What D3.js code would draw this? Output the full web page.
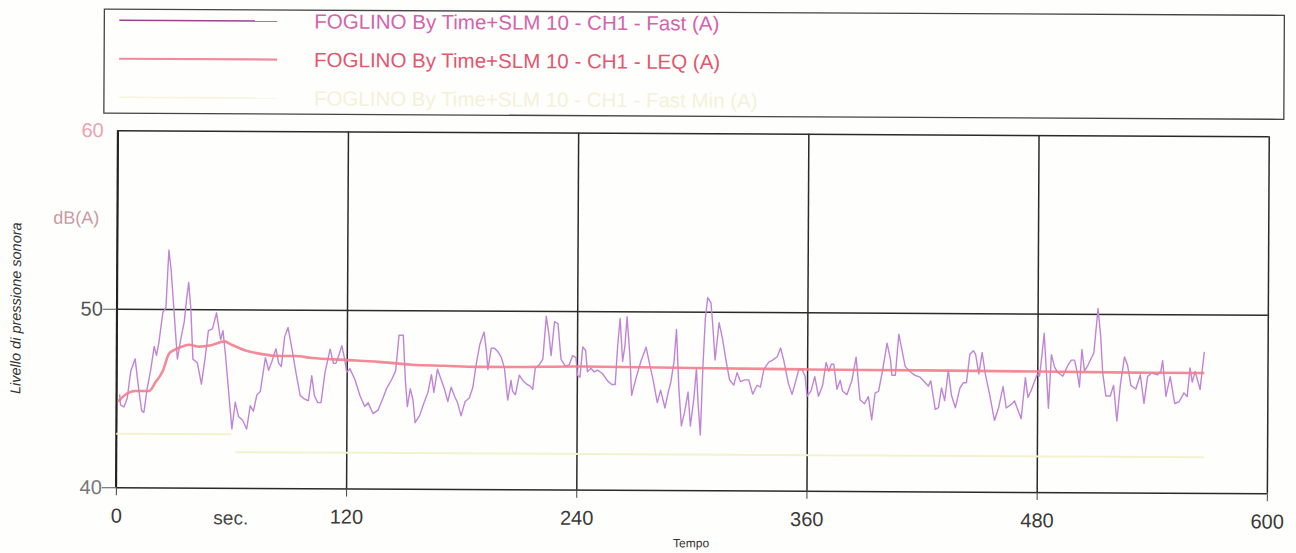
<!DOCTYPE html>
<html>
<head>
<meta charset="utf-8">
<script src="https://cdn.jsdelivr.net/npm/d3@7"></script>
<style>
  body { margin: 0; background: #fefefd; }
  svg { font-family: "Liberation Sans", Arial, sans-serif; }
</style>
</head>
<body>
<div id="chart"></div>
<script>
// x ticks (seconds) and y ticks (dB)
var xTicks = [0, 120, 240, 360, 480, 600];
var yTicks = [40, 50, 60];

// Fast (A) - vertices
var fastTimes = [1.7, 2.2, 4, 5.7, 7.4, 9.7, 11.4, 13.2, 14.4, 16, 17.7, 19.6, 20.8, 22, 24, 25.6, 27, 28.2, 29.6, 31.7,
  33.4, 35.2, 36.4, 37.4, 38.6, 39.8, 42.1, 44.3, 46.1, 47.8, 49.9, 52, 53, 54.2, 55.4, 56.8, 58.5, 60.3, 62, 63.7,
  65.8, 68, 69.8, 71.5, 73.2, 75, 77.6, 79.3, 81, 83.1, 84.5, 85.9, 87.6, 89.3, 91.4, 93.5, 95.8, 98, 100.1, 101.8,
  103.2, 105, 106.7, 108.7, 111.3, 113.1, 114.3, 116, 117.4, 118.8, 120, 121.7, 124.3, 127, 129.5, 131.3, 133.8, 136.5, 139.1, 140.8,
  143.4, 145.5, 147.2, 149.4, 150.6, 151.7, 153.2, 154.6, 155.8, 158.1, 160.3, 162.4, 164.2, 165.5, 167.3, 169, 170.7, 172.8, 174.5, 176.3,
  178, 179.7, 181.8, 184, 185.8, 187.5, 189.3, 191.5, 192.7, 193.6, 195.3, 197, 198.8, 200.5, 202.2, 204, 205.7,
  206.5, 208, 210, 211.8, 213.8, 215.5, 217, 218.3, 220.5, 222.2, 223.9, 225.3, 226.5, 228.2, 230, 231.7, 234, 236, 237.7, 239.5,
  240.3, 241.6, 243, 244.5, 245.5, 247.3, 249, 250.8, 253.4, 256, 258.2, 260, 261.2, 262.4, 263.8, 265, 266, 267.6, 268.6, 270.7,
  273.3, 276, 278, 279.7, 282, 283.7, 286, 287.7, 288.9, 290.6, 291.8, 293.2, 294.6, 296.3, 298, 299.3, 301, 302.3, 303.3, 304.5,
  305.7, 306.8, 308, 309.7, 310.6, 312, 314, 315.8, 317.5, 319.6, 321.8, 323.5, 325.3, 327.5, 329.6, 331.7, 334, 335.7, 337.5, 340,
  341.8, 344.4, 346.1, 347.8, 350.3, 352.2, 354, 355.7, 357.4, 359, 360, 362.1, 364, 366, 368.1, 369.9, 371.3, 372.6, 373.9, 375.6,
  377.3, 378.5, 380.8, 383.4, 385.5, 387.7, 390, 392, 393.8, 395.5, 397.3, 399.4, 401.6, 403.4, 404.2, 406, 407.7, 409.8, 411.1,
  413.7, 416.3, 418.9, 421.5, 423.2, 424.5, 426.9, 428.6, 430.1, 431.8, 433.6, 435.3, 437.4, 439.7, 441.4, 443.1, 444.8, 446.6, 447.8, 449.5,
  451.2, 452.9, 455.3, 457.8, 459.9, 462.2, 463.9, 466.5, 468.2, 470.3, 471.7, 473.8, 475.2, 476.9, 478.6, 480, 481.2, 482.4, 483.5, 484.7,
  485.9, 487.3, 489, 490.7, 493.3, 495.9, 497.7, 499.4, 500.8, 502, 503.2, 504.6, 506.3, 508, 509.4, 511.5, 512.9, 514.1, 515.8, 518.1,
  519.8, 521.6, 523.3, 525.4, 527.1, 528.8, 531.4, 533.7, 535.7, 537.5, 539.6, 542.7, 544.4, 545.3, 547.1, 549.3, 551.7, 554, 556.5, 558.2,
  559.6, 560.8, 562.3, 564.9, 567];
var fastValues = [45.2, 44.6, 44.5, 45.0, 46.5, 47.2, 45.7, 44.3, 44.2, 45.5, 46.5, 47.9, 47.4, 48.1, 49.8, 50.1, 53.3, 52.2, 50.2, 47.2,
  48.3, 49.3, 50.6, 51.5, 50.0, 47.2, 47.0, 45.8, 47.2, 48.8, 48.9, 49.8, 49.1, 48.3, 48.8, 47.4, 45.4, 43.3, 44.8, 44.0,
  43.8, 43.3, 44.6, 44.3, 45.2, 45.4, 47.3, 46.6, 47.1, 47.8, 47.0, 46.8, 48.5, 49.0, 47.8, 46.5, 45.2, 45.0, 44.9, 46.3,
  45.2, 44.8, 44.8, 46.5, 47.8, 47.0, 47.0, 47.5, 48.0, 47.3, 46.5, 46.7, 46.1, 45.2, 44.6, 44.8, 44.2, 44.4, 45.1, 45.6,
  46.1, 46.6, 48.6, 48.6, 46.1, 44.6, 45.6, 45.0, 43.7, 44.1, 44.8, 45.4, 46.4, 45.4, 46.7, 46.2, 45.7, 44.9, 45.7, 45.2,
  44.8, 44.1, 44.9, 45.1, 45.7, 47.0, 48.1, 48.8, 47.8, 46.7, 47.9, 47.9, 47.7, 47.4, 46.8, 45.0, 46.1,
  45.5, 45.3, 46.4, 46.1, 45.9, 45.8, 45.6, 46.8, 47.0, 47.3, 49.7, 48.7, 47.5, 49.4, 49.3, 47.3, 46.9, 47.0, 47.5, 47.4,
  46.4, 46.3, 48.0, 47.8, 46.6, 46.8, 46.6, 46.7, 46.5, 46.1, 45.9, 45.9, 48.1, 49.6, 47.2, 48.1, 49.7, 47.5, 45.3, 46.2,
  47.2, 48.0, 47.0, 46.2, 44.9, 45.6, 44.6, 45.5, 46.0, 47.2, 49.0, 45.7, 43.6, 44.4, 45.5, 43.6, 45.1, 46.8, 44.8, 43.1,
  47.0, 49.6, 50.8, 50.5, 49.4, 47.3, 49.4, 48.5, 47.4, 46.2, 45.9, 46.6, 46.1, 46.2, 46.2, 45.4, 45.9, 45.8, 46.8, 47.2,
  47.3, 47.5, 48.0, 47.3, 46.0, 45.4, 46.1, 46.8, 46.8, 46.4, 45.3, 45.6, 46.4, 45.3, 45.9, 47.2, 46.7, 47.1, 47.1, 45.7,
  46.2, 45.6, 45.4, 46.2, 47.5, 45.1, 44.9, 45.3, 44.0, 45.5, 45.6, 46.8, 48.3, 47.4, 46.5, 46.5, 48.8, 47.7, 47.0,
  46.7, 46.5, 46.4, 46.1, 45.9, 46.2, 44.6, 44.7, 45.8, 45.1, 46.8, 45.4, 44.7, 45.8, 46.1, 46.1, 47.7, 47.9, 47.7, 46.6,
  47.8, 46.6, 45.4, 44.0, 44.7, 45.9, 44.7, 44.9, 45.1, 44.5, 44.1, 46.4, 45.3, 45.7, 46.2, 46.6, 46.5, 47.7, 48.9, 46.8,
  44.7, 47.7, 47.0, 46.7, 46.5, 47.1, 47.4, 47.4, 46.7, 45.9, 48.0, 46.8, 47.1, 47.5, 47.8, 50.3, 48.8, 46.7, 45.4, 45.4,
  46.0, 44.0, 46.0, 47.6, 47.1, 46.0, 45.8, 46.6, 45.0, 46.5, 46.7, 46.6, 46.8, 47.4, 45.4, 46.5, 45.0, 45.1, 45.6, 45.4,
  47.0, 46.2, 46.8, 45.8, 47.9];

// LEQ (A)
var leqTimes = [1, 4.8, 10, 13.5, 17, 20.4, 24, 27.4, 30, 34.3, 37.7, 43, 49.9, 56, 60.3, 67.2, 75.8, 84.5, 93, 101.8,
  119, 136.5, 153.8, 171, 188, 205.7, 240, 300, 360, 420, 480, 540, 567];
var leqValues = [44.8, 45.2, 45.4, 45.4, 45.4, 45.9, 46.5, 47.5, 47.7, 47.9, 48.0, 47.9, 48.0, 48.2, 48.0, 47.7, 47.5, 47.4, 47.4, 47.3,
  47.2, 47.1, 46.95, 46.9, 46.85, 46.85, 46.9, 46.85, 46.8, 46.78, 46.75, 46.72, 46.72];

// Fast Min (A), two flat stretches
var minTimes1 = [0, 60];
var minValues1 = [43.0, 43.0];
var minTimes2 = [62, 567];
var minValues2 = [42.0, 42.0];

var legendLabels = [
  "FOGLINO By Time+SLM 10 - CH1 - Fast (A)",
  "FOGLINO By Time+SLM 10 - CH1 - LEQ (A)",
  "FOGLINO By Time+SLM 10 - CH1 - Fast Min (A)"
];

var svgWidth = 1296;
var svgHeight = 553;
var margin = { top: 133, right: 28, bottom: 63, left: 117 };
var width = svgWidth - margin.left - margin.right;
var height = svgHeight - margin.top - margin.bottom;

var svg = d3.select("#chart")
  .append("svg")
  .attr("width", svgWidth)
  .attr("height", svgHeight);

// the scanned page is slightly tilted
var page = svg.append("g")
  .attr("transform", "rotate(0.3, 648, 276)");

var chartGroup = page.append("g")
  .attr("transform", `translate(${margin.left}, ${margin.top})`);

var x = d3.scaleLinear().domain([0, 600]).range([0, width]);
var y = d3.scaleLinear().domain([40, 60]).range([height, 0]);

// grid
chartGroup.append("g")
  .attr("transform", `translate(0, ${height})`)
  .call(d3.axisBottom(x).tickValues(xTicks).tickSize(-height).tickFormat(""))
  .call(g => g.select(".domain").remove())
  .selectAll("line").attr("stroke", "#2a2a2a").attr("stroke-width", 1.5);

chartGroup.append("g")
  .call(d3.axisLeft(y).tickValues(yTicks).tickSize(-width).tickFormat(""))
  .call(g => g.select(".domain").remove())
  .selectAll("line").attr("stroke", "#2a2a2a").attr("stroke-width", 1.5);

chartGroup.append("line")
  .attr("x1", 0).attr("x2", 0).attr("y1", 0).attr("y2", height)
  .attr("stroke", "#222").attr("stroke-width", 1.8);

// x axis ticks + labels
var xAxis = chartGroup.append("g")
  .attr("transform", `translate(0, ${height})`)
  .call(d3.axisBottom(x).tickValues(xTicks).tickSize(8).tickFormat(d3.format("d")));
xAxis.select(".domain").remove();
xAxis.selectAll("line").attr("stroke", "#444");
xAxis.selectAll("text")
  .attr("y", 21)
  .attr("font-size", 20)
  .attr("font-family", "Liberation Sans, Arial, sans-serif")
  .attr("fill", "#3a3a3a");

// y axis ticks + labels
var yAxis = chartGroup.append("g")
  .call(d3.axisLeft(y).tickValues(yTicks).tickSize(14).tickFormat(d3.format("d")));
yAxis.select(".domain").remove();
yAxis.selectAll("line").attr("stroke", "#555");
yAxis.selectAll("text")
  .attr("x", -14)
  .attr("font-size", 20)
  .attr("font-family", "Liberation Sans, Arial, sans-serif")
  .attr("fill", d => d === 60 ? "#e8a4b2" : (d === 40 ? "#777" : "#555"));
yAxis.selectAll(".tick").filter(d => d === 60).select("line").attr("stroke", "none");

chartGroup.append("text")
  .attr("x", -18)
  .attr("y", y(55.1))
  .attr("text-anchor", "end")
  .attr("dy", "0.35em")
  .attr("font-size", 18)
  .attr("fill", "#c79ba6")
  .text("dB(A)");

chartGroup.append("text")
  .attr("x", x(60))
  .attr("y", height + 30)
  .attr("dy", "0.35em")
  .attr("text-anchor", "middle")
  .attr("font-size", 19)
  .attr("fill", "#444")
  .text("sec.");

chartGroup.append("text")
  .attr("x", width / 2)
  .attr("y", height + 57)
  .attr("text-anchor", "middle")
  .attr("font-size", 12)
  .attr("fill", "#333")
  .text("Tempo");

chartGroup.append("text")
  .attr("transform", `translate(${-96}, ${y(50)}) rotate(-90)`)
  .attr("text-anchor", "middle")
  .attr("font-size", 14.5)
  .attr("font-style", "italic")
  .attr("fill", "#333")
  .text("Livello di pressione sonora");

// series
var line = d3.line().x(d => x(d[0])).y(d => y(d[1]));

[d3.zip(minTimes1, minValues1), d3.zip(minTimes2, minValues2)].forEach(function(seg) {
  chartGroup.append("path")
    .datum(seg)
    .attr("d", line)
    .attr("fill", "none")
    .attr("stroke", "#f3f2cf")
    .attr("stroke-width", 2);
});

chartGroup.append("path")
  .datum(d3.zip(fastTimes, fastValues))
  .attr("d", line)
  .attr("fill", "none")
  .attr("stroke", "#c184d6")
  .attr("stroke-width", 1.4)
  .attr("stroke-linejoin", "round");

chartGroup.append("path")
  .datum(d3.zip(leqTimes, leqValues))
  .attr("d", d3.line().curve(d3.curveMonotoneX).x(d => x(d[0])).y(d => y(d[1])))
  .attr("fill", "none")
  .attr("stroke", "#f27d8c")
  .attr("stroke-opacity", 0.9)
  .attr("stroke-width", 2.6);

// legend
var legend = page.append("g");
legend.append("rect")
  .attr("x", 103).attr("y", 12)
  .attr("width", 1180).attr("height", 104)
  .attr("fill", "none")
  .attr("stroke", "#444")
  .attr("stroke-width", 1.3);

var legendLine = ["#9e3f8f", "#ee8b9c", "#f5f4dc"];
var legendText = ["#d463ac", "#e4566f", "#f3f2d8"];

legendLabels.forEach(function(label, i) {
  var ly = 23 + i * 38.5;
  legend.append("line")
    .attr("x1", 118).attr("x2", 276)
    .attr("y1", ly).attr("y2", ly)
    .attr("stroke", legendLine[i])
    .attr("stroke-width", i === 1 ? 2.2 : 1.4);
  legend.append("text")
    .attr("x", 313)
    .attr("y", ly)
    .attr("dy", "0.35em")
    .attr("font-size", 20.5)
    .attr("fill", legendText[i])
    .text(label);
});
</script>
</body>
</html>
